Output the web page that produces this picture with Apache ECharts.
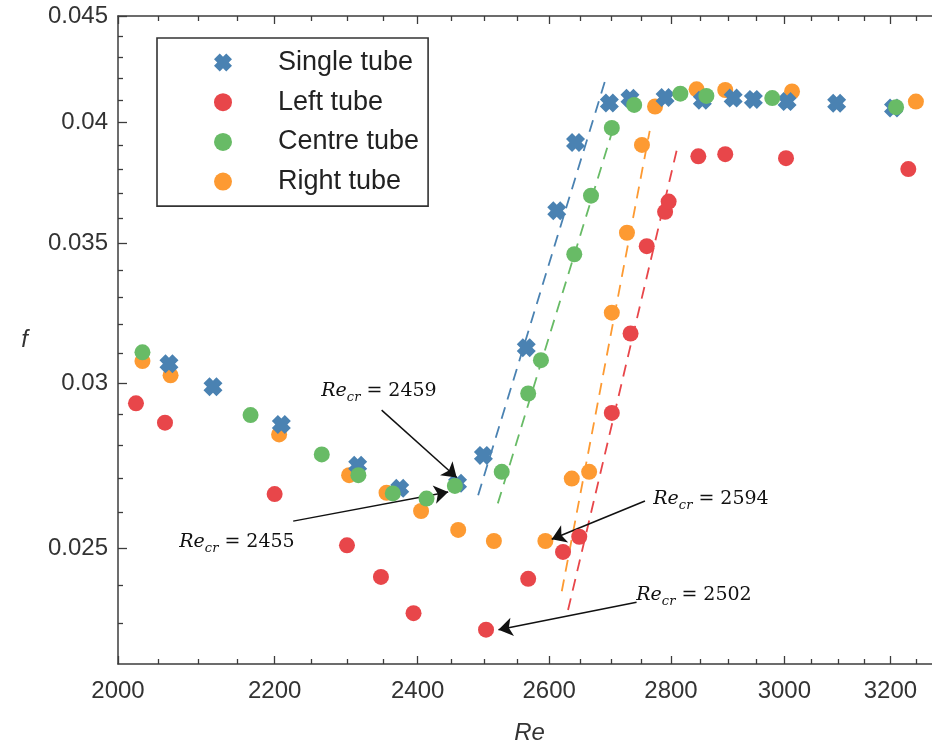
<!DOCTYPE html>
<html>
<head>
<meta charset="utf-8">
<script src="https://cdn.jsdelivr.net/npm/echarts@6/dist/echarts.min.js"></script>
<style>
  html, body { margin: 0; padding: 0; background: #fff; }
  #chart { width: 932px; height: 744px; }
</style>
</head>
<body>
<div id="chart"></div>
<script>
// Friction factor f against Reynolds number Re for the four tube cases (log-log axes)
const seriesNames = ['Single tube', 'Left tube', 'Centre tube', 'Right tube'];

const singleRe = [2063, 2119, 2209, 2314, 2374, 2459, 2498, 2564, 2612, 2642, 2697, 2731, 2790, 2854, 2908, 2944, 3005, 3097, 3206];
const singleF  = [0.03065, 0.02988, 0.02866, 0.02740, 0.02671, 0.02686, 0.02770, 0.03120, 0.03629, 0.03913, 0.04088, 0.04109, 0.04113, 0.04100, 0.04110, 0.04104, 0.04094, 0.04087, 0.04065];

const leftRe = [2022, 2058, 2200, 2299, 2347, 2394, 2502, 2567, 2622, 2648, 2701, 2732, 2759, 2790, 2796, 2847, 2894, 3003, 3235];
const leftF  = [0.02934, 0.02872, 0.02654, 0.02508, 0.02422, 0.02327, 0.02285, 0.02417, 0.02490, 0.02532, 0.02903, 0.03169, 0.03490, 0.03625, 0.03666, 0.03854, 0.03863, 0.03846, 0.03800];

const centreRe = [2030, 2168, 2264, 2315, 2364, 2413, 2455, 2526, 2567, 2587, 2640, 2667, 2701, 2738, 2816, 2861, 2978, 3211];
const centreF  = [0.03104, 0.02896, 0.02773, 0.02710, 0.02656, 0.02641, 0.02678, 0.02720, 0.02966, 0.03077, 0.03459, 0.03690, 0.03977, 0.04079, 0.04130, 0.04120, 0.04110, 0.04069];

const rightRe = [2030, 2065, 2206, 2302, 2355, 2405, 2460, 2514, 2594, 2636, 2664, 2701, 2726, 2751, 2773, 2844, 2894, 3014, 3250];
const rightF  = [0.03074, 0.03026, 0.02835, 0.02710, 0.02658, 0.02605, 0.02551, 0.02520, 0.02520, 0.02700, 0.02720, 0.03243, 0.03542, 0.03903, 0.04072, 0.04150, 0.04147, 0.04140, 0.04094];

// Transition-branch fit lines: [Re, f] end points
const fitSingle = [[2490, 0.02651], [2693, 0.04217]];
const fitCentre = [[2520, 0.02627], [2705, 0.03990]];
const fitRight  = [[2620, 0.02384], [2764, 0.03964]];
const fitLeft   = [[2630, 0.02335], [2810, 0.03882]];

// Critical Reynolds numbers (single, centre, right, left) and their arrows
const criticalRe = [2459, 2455, 2594, 2502];
const arrowLines = [
  [[2348, 0.02912], [2457.7, 0.02703]],
  [[2225, 0.02576], [2445, 0.02660]],
  [[2756, 0.02634], [2604, 0.02525]],
  [[2742, 0.02355], [2521, 0.02285]]
];

// Axis ticks
const xMajorTicks = [2000, 2200, 2400, 2600, 2800, 3000, 3200];
const xMinorTicks = [2050, 2100, 2150, 2250, 2300, 2350, 2450, 2500, 2550, 2650, 2700, 2750, 2850, 2900, 2950, 3050, 3100, 3150, 3250];
const yMajorTicks = [0.025, 0.03, 0.035, 0.04, 0.045];
const yMinorTicks = [0.023, 0.024, 0.026, 0.027, 0.028, 0.029, 0.031, 0.032, 0.033, 0.034, 0.036, 0.037, 0.038, 0.039, 0.041, 0.042, 0.043, 0.044];

const colors = { single: '#4a82b2', left: '#e8464a', centre: '#68bb66', right: '#fd9a32' };
const crossPath = 'path://M68.2 0L50 18.2L31.8 0L0 31.8L18.2 50L0 68.2L31.8 100L50 81.8L68.2 100L100 68.2L81.8 50L100 31.8Z';

const pairs = (xs, ys) => xs.map((x, i) => [x, ys[i]]);

const axisColor = '#3c3c3c';
const labelFont = 'Liberation Sans, Arial, sans-serif';

const baseX = {
  type: 'log', logBase: 10, min: 2000, max: 3300,
  splitLine: { show: false }, minorTick: { show: false }, minorSplitLine: { show: false }
};
const baseY = {
  type: 'log', logBase: 10, min: 0.022, max: 0.045,
  splitLine: { show: false }, minorTick: { show: false }, minorSplitLine: { show: false }
};
const tickStyle = { color: axisColor, width: 1.3 };
const lineStyleAxis = { color: axisColor, width: 1.5 };

const xAxis = [
  Object.assign({}, baseX, {
    position: 'bottom',
    axisLine: { show: true, lineStyle: lineStyleAxis },
    axisTick: { show: true, inside: true, length: 8, customValues: xMajorTicks, lineStyle: tickStyle },
    axisLabel: {
      show: true, customValues: xMajorTicks, margin: 15,
      formatter: v => String(Math.round(v)),
      fontSize: 24, color: '#333', fontFamily: labelFont
    },
    name: 'Re', nameLocation: 'middle', nameGap: 57,
    nameTextStyle: { fontStyle: 'italic', fontSize: 24, color: '#333', fontFamily: labelFont }
  }),
  Object.assign({}, baseX, {
    position: 'bottom',
    axisLine: { show: false },
    axisTick: { show: true, inside: true, length: 5, customValues: xMinorTicks, lineStyle: tickStyle },
    axisLabel: { show: false }
  }),
  Object.assign({}, baseX, {
    position: 'top',
    axisLine: { show: true, lineStyle: lineStyleAxis },
    axisTick: { show: true, inside: true, length: 8, customValues: xMajorTicks, lineStyle: tickStyle },
    axisLabel: { show: false }
  }),
  Object.assign({}, baseX, {
    position: 'top',
    axisLine: { show: false },
    axisTick: { show: true, inside: true, length: 5, customValues: xMinorTicks, lineStyle: tickStyle },
    axisLabel: { show: false }
  })
];

const yAxis = [
  Object.assign({}, baseY, {
    position: 'left',
    axisLine: { show: true, lineStyle: lineStyleAxis },
    axisTick: { show: true, inside: true, length: 9, customValues: yMajorTicks, lineStyle: tickStyle },
    axisLabel: {
      show: true, customValues: yMajorTicks, margin: 10,
      formatter: v => String(+(+v).toPrecision(3)),
      fontSize: 24, color: '#333', fontFamily: labelFont
    },
    name: 'f', nameLocation: 'middle', nameGap: 90, nameRotate: 0,
    nameTextStyle: { fontStyle: 'italic', fontSize: 24, color: '#333', fontFamily: labelFont, padding: [0, 0, 36, 0] }
  }),
  Object.assign({}, baseY, {
    position: 'left',
    axisLine: { show: false },
    axisTick: { show: true, inside: true, length: 5, customValues: yMinorTicks, lineStyle: tickStyle },
    axisLabel: { show: false }
  })
];

function fitLine(data, color) {
  return {
    type: 'line', data: data, xAxisIndex: 0, yAxisIndex: 0,
    symbol: 'none', silent: true, z: 1,
    lineStyle: { color: color, width: 1.8, type: [12, 8] }
  };
}

function pointSeries(name, data, color, symbol, size, z) {
  return {
    type: 'scatter', name: name, data: data, xAxisIndex: 0, yAxisIndex: 0,
    symbol: symbol, symbolSize: size, z: z,
    itemStyle: { color: color, opacity: 1 }
  };
}

const series = [
  fitLine(fitSingle, colors.single),
  fitLine(fitCentre, colors.centre),
  fitLine(fitRight, colors.right),
  fitLine(fitLeft, colors.left),
  pointSeries('Right tube', pairs(rightRe, rightF), colors.right, 'circle', 16, 3),
  pointSeries('Single tube', pairs(singleRe, singleF), colors.single, crossPath, 19, 4),
  pointSeries('Left tube', pairs(leftRe, leftF), colors.left, 'circle', 16, 5),
  pointSeries('Centre tube', pairs(centreRe, centreF), colors.centre, 'circle', 16, 6),
  {
    type: 'scatter', name: 'arrows', data: [], xAxisIndex: 0, yAxisIndex: 0, z: 8,
    markLine: {
      silent: true, animation: false,
      symbol: ['none', 'arrow'], symbolSize: 14,
      label: { show: false },
      lineStyle: { color: '#111', width: 1.5, type: 'solid' },
      itemStyle: { color: '#111' },
      data: arrowLines.map(l => [{ coord: l[0] }, { coord: l[1] }])
    }
  }
];

// Annotation label anchors (pixel centres of each text)
const annoPos = [[379, 391], [237, 542], [711, 499], [694, 595]];
const annoRich = {
  i: { fontFamily: 'DejaVu Serif', fontStyle: 'italic', fontSize: 19, lineHeight: 26, verticalAlign: 'middle', fill: '#111', color: '#111' },
  s: { fontFamily: 'DejaVu Serif', fontStyle: 'italic', fontSize: 13, lineHeight: 13, verticalAlign: 'bottom', fill: '#111', color: '#111' },
  n: { fontFamily: 'DejaVu Serif', fontSize: 19, lineHeight: 26, verticalAlign: 'middle', fill: '#111', color: '#111' }
};
const graphic = criticalRe.map((re, k) => ({
  type: 'text', z: 20, silent: true,
  x: annoPos[k][0], y: annoPos[k][1],
  style: {
    text: '{i|Re}{s|cr}{n| = ' + re + '}',
    rich: annoRich,
    align: 'center', verticalAlign: 'middle',
    textAlign: 'center', textVerticalAlign: 'middle',
    fill: '#111'
  }
}));

const chart = echarts.init(document.getElementById('chart'), null, { renderer: 'canvas' });
chart.setOption({
  animation: false,
  backgroundColor: '#fff',
  grid: { left: 118, top: 16, width: 823, height: 648, containLabel: false, outerBoundsMode: 'none' },
  xAxis: xAxis,
  yAxis: yAxis,
  legend: {
    data: [
      { name: 'Single tube', icon: crossPath },
      { name: 'Left tube', icon: 'circle' },
      { name: 'Centre tube', icon: 'circle' },
      { name: 'Right tube', icon: 'circle' }
    ],
    orient: 'vertical', left: 157, top: 38,
    padding: [11, 9, 11, 57],
    itemWidth: 18, itemHeight: 18, itemGap: 12.7,
    borderColor: '#333', borderWidth: 1.6, borderRadius: 0,
    backgroundColor: '#fff',
    selectedMode: false,
    textStyle: { fontSize: 27, lineHeight: 26, fontFamily: labelFont, color: '#222', padding: [0, 0, 0, 41] }
  },
  series: series,
  graphic: graphic
});
</script>
</body>
</html>
